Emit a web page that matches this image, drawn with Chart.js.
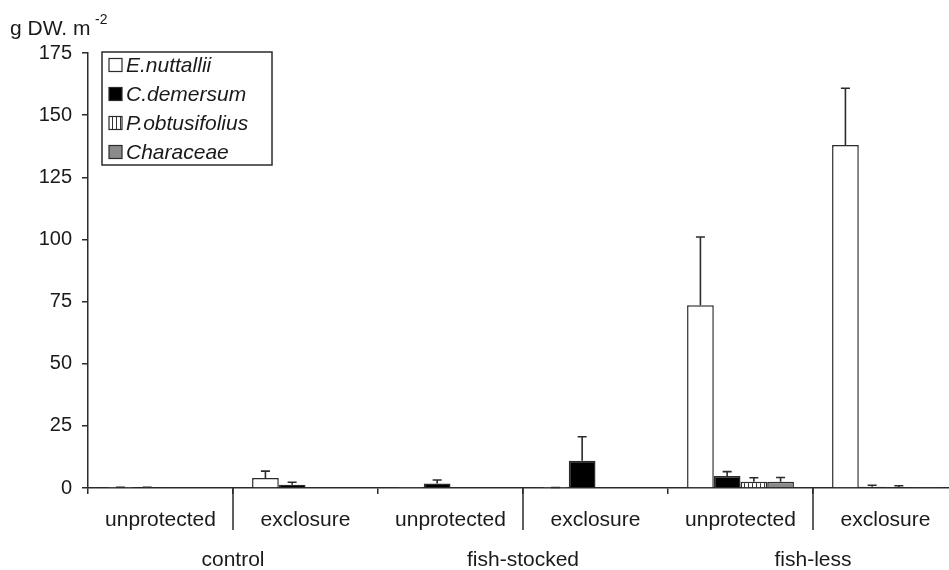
<!DOCTYPE html>
<html>
<head>
<meta charset="utf-8">
<title>Macrophyte biomass</title>
<script src="https://cdn.jsdelivr.net/npm/chart.js@4"></script>
<style>
  html, body { margin: 0; padding: 0; background: #fff; overflow: hidden; }
  #wrap { width: 960px; height: 570px; }
</style>
</head>
<body>
<div id="wrap"><canvas id="biomassChart" width="960" height="570"></canvas></div>
<script>
// treatments and sub-treatments
const subLabels = ['unprotected', 'exclosure', 'unprotected', 'exclosure', 'unprotected', 'exclosure'];
const groupLabels = ['control', 'fish-stocked', 'fish-less'];
const yTicks = [0, 25, 50, 75, 100, 125, 150, 175];

// mean biomass (g DW m-2) and upper error (SE)
const nuttallii = [0.1, 4.0, 0.2, 0.1, 73.5, 138.0];
const nuttalliiErr = [0.2, 2.8, 0, 0.1, 27.5, 22.8];
const demersum = [0.1, 1.3, 1.8, 11.0, 4.8, 0.5];
const demersumErr = [0.2, 1.0, 1.4, 9.6, 1.8, 0.6];
const obtusifolius = [0, 0, 0, 0, 2.5, 0.4];
const obtusifoliusErr = [0, 0, 0, 0, 1.6, 0.5];
const characeae = [0, 0, 0, 0, 2.5, 0.2];
const characeaeErr = [0, 0, 0, 0, 1.7, 0];

const INK = '#2b2b2b';

// vertical hatch for P.obtusifolius
function stripePattern() {
    const c = document.createElement('canvas');
    c.width = 4; c.height = 4;
    const g = c.getContext('2d');
    g.fillStyle = '#fff';
    g.fillRect(0, 0, 4, 4);
    g.fillStyle = '#333';
    g.fillRect(0, 0, 1, 4);
    return g.createPattern(c, 'repeat');
}

// upward error bars with a small cap
const errorBars = {
    id: 'errorBars',
    afterDatasetsDraw(chart) {
        const ctx = chart.ctx;
        const y = chart.scales.y;
        ctx.save();
        ctx.strokeStyle = INK;
        ctx.lineWidth = 1.6;
        chart.data.datasets.forEach((ds, d) => {
            const meta = chart.getDatasetMeta(d);
            meta.data.forEach((bar, i) => {
                const err = ds.errors[i];
                if (!err) return;
                const top = y.getPixelForValue(ds.data[i] + err);
                ctx.beginPath();
                ctx.moveTo(bar.x, bar.y);
                ctx.lineTo(bar.x, top);
                ctx.moveTo(bar.x - 4.5, top);
                ctx.lineTo(bar.x + 4.5, top);
                ctx.stroke();
            });
        });
        ctx.restore();
    }
};

// long separators between unprotected / exclosure inside each treatment
const dividers = {
    id: 'dividers',
    afterDraw(chart) {
        const ctx = chart.ctx;
        const x = chart.scales.x;
        const bottom = chart.chartArea.bottom;
        ctx.save();
        ctx.strokeStyle = INK;
        ctx.lineWidth = 1.5;
        for (let i = 0; i < subLabels.length; i += 2) {
            const px = (x.getPixelForValue(i) + x.getPixelForValue(i + 1)) / 2;
            ctx.beginPath();
            ctx.moveTo(px, bottom);
            ctx.lineTo(px, bottom + 42);
            ctx.stroke();
        }
        ctx.restore();
    }
};

// boxed legend inside the plot plus the unit label
const boxLegend = {
    id: 'boxLegend',
    afterDraw(chart) {
        const ctx = chart.ctx;
        ctx.save();
        ctx.strokeStyle = INK;
        ctx.lineWidth = 1.5;
        ctx.strokeRect(102, 52, 170, 113);
        ctx.font = 'italic 21px "Liberation Sans", Arial, sans-serif';
        ctx.textBaseline = 'middle';
        chart.data.datasets.forEach((ds, i) => {
            const cy = 65 + i * 29;
            ctx.fillStyle = ds.backgroundColor;
            ctx.fillRect(109, cy - 6.5, 13, 13);
            ctx.lineWidth = 1.2;
            ctx.strokeRect(109, cy - 6.5, 13, 13);
            ctx.fillStyle = '#1a1a1a';
            ctx.fillText(ds.label, 126, cy + 1);
        });

        ctx.font = '21px "Liberation Sans", Arial, sans-serif';
        ctx.textBaseline = 'alphabetic';
        ctx.fillText('g DW. m', 10, 35);
        ctx.font = '14px "Liberation Sans", Arial, sans-serif';
        ctx.fillText('-2', 95, 24);
        ctx.restore();
    }
};

const stripes = stripePattern();

new Chart(document.getElementById('biomassChart'), {
    type: 'bar',
    data: {
        labels: subLabels,
        datasets: [
            { label: 'E.nuttallii', data: nuttallii, errors: nuttalliiErr, backgroundColor: '#ffffff' },
            { label: 'C.demersum', data: demersum, errors: demersumErr, backgroundColor: '#000000' },
            { label: 'P.obtusifolius', data: obtusifolius, errors: obtusifoliusErr, backgroundColor: stripes },
            { label: 'Characeae', data: characeae, errors: characeaeErr, backgroundColor: '#8a8a8a' }
        ].map(ds => Object.assign(ds, {
            xAxisID: 'x',
            borderColor: INK,
            borderWidth: 1.5,
            borderSkipped: 'bottom',
            categoryPercentage: 0.737,
            barPercentage: 1.0
        }))
    },
    options: {
        responsive: false,
        animation: false,
        layout: { padding: { top: 53, left: 0, right: 2, bottom: 0 } },
        plugins: {
            legend: { display: false },
            tooltip: { enabled: false }
        },
        scales: {
            y: {
                min: 0,
                max: 175,
                afterBuildTicks: s => { s.ticks = yTicks.map(v => ({ value: v })); },
                afterFit: s => { s.width = 88; },
                ticks: {
                    color: '#1a1a1a',
                    padding: 10,
                    font: { family: '"Liberation Sans", Arial, sans-serif', size: 20 }
                },
                grid: { drawOnChartArea: false, tickLength: 6, color: INK, lineWidth: 1.5 },
                border: { color: INK, width: 1.5 }
            },
            x: {
                type: 'category',
                position: 'bottom',
                weight: 0,
                offset: true,
                afterFit: s => { s.height = 42; },
                ticks: {
                    color: '#1a1a1a',
                    padding: 14,
                    font: { family: '"Liberation Sans", Arial, sans-serif', size: 21 }
                },
                grid: { offset: true, drawOnChartArea: false, tickLength: 6, color: INK, lineWidth: 1.5 },
                border: { color: INK, width: 1.5 }
            },
            x2: {
                type: 'category',
                labels: groupLabels,
                position: 'bottom',
                weight: 1,
                offset: true,
                afterFit: s => { s.height = 40; },
                ticks: {
                    color: '#1a1a1a',
                    padding: 10,
                    font: { family: '"Liberation Sans", Arial, sans-serif', size: 21 }
                },
                grid: { display: false },
                border: { display: false }
            }
        }
    },
    plugins: [errorBars, dividers, boxLegend]
});
</script>
</body>
</html>
